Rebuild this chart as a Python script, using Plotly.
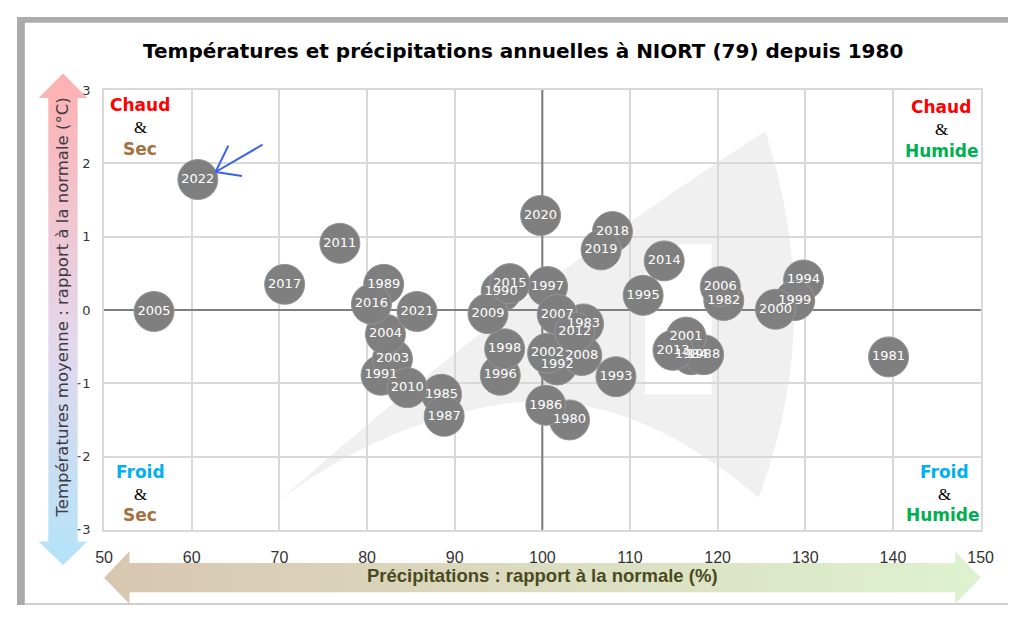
import plotly.graph_objects as go

W, H = 1029, 621           # reference picture size
OFF = 8                    # page body margin
FW, FH = W - 2 * OFF, H - 2 * OFF  # figure size that fits in the window

# ---------------- data ----------------
years = [1980, 1981, 1982, 1983, 1984, 1985, 1986, 1987, 1988, 1989,
         1990, 1991, 1992, 1993, 1994, 1995, 1996, 1997, 1998, 1999,
         2000, 2001, 2002, 2003, 2004, 2005, 2006, 2007, 2008, 2009,
         2010, 2011, 2012, 2013, 2014, 2015, 2016, 2017, 2018, 2019,
         2020, 2021, 2022]
precip = [103.1, 139.5, 120.7, 104.7, 117.0, 88.5, 100.4, 88.8, 118.4, 81.9,
          95.3, 81.6, 101.7, 108.4, 129.8, 111.5, 95.2, 100.6, 95.7, 128.8,
          126.6, 116.4, 100.6, 82.9, 82.1, 55.7, 120.3, 101.7, 104.5, 93.8,
          84.6, 76.9, 103.7, 114.9, 113.9, 96.3, 80.5, 70.6, 108.0, 106.7,
          99.8, 85.7, 60.7]
temp = [-1.50, -0.64, 0.13, -0.19, -0.61, -1.15, -1.30, -1.45, -0.61, 0.35,
        0.25, -0.89, -0.75, -0.91, 0.41, 0.20, -0.89, 0.32, -0.53, 0.13,
        0.01, -0.37, -0.59, -0.67, -0.33, -0.02, 0.32, -0.06, -0.62, -0.05,
        -1.06, 0.91, -0.30, -0.55, 0.67, 0.36, 0.08, 0.35, 1.07, 0.82,
        1.29, -0.02, 1.78]

x_ticks = [50, 60, 70, 80, 90, 100, 110, 120, 130, 140, 150]
y_ticks = [-3, -2, -1, 0, 1, 2, 3]
x_ref_line = [100, 100]
x_ref_span = [-3, 3]

title = "Températures et précipitations annuelles à NIORT (79) depuis 1980"
x_title = "Précipitations : rapport à la normale (%)"
y_title = "Températures moyenne : rapport à la normale (°C)"


def PX(px):
    return (px - OFF) / FW


def PY(py):
    return 1 - (py - OFF) / FH


def cpath(cmds):
    out = []
    for c in cmds:
        letter, pts = c[0], c[1:]
        out.append(letter + " " + " ".join(f"{PX(x):.5f},{PY(y):.5f}" for x, y in pts))
    return " ".join(out) + " Z"


fig = go.Figure()

# vertical reference line at 100 % (under the bubbles)
fig.add_trace(go.Scatter(
    x=x_ref_line, y=x_ref_span, mode="lines",
    line=dict(color="#7f7f7f", width=2), hoverinfo="skip", showlegend=False,
))

# bubbles
fig.add_trace(go.Scatter(
    x=precip, y=temp, text=[str(y) for y in years],
    mode="markers+text",
    marker=dict(size=40, color="#7f7f7f", line=dict(color="#959595", width=1)),
    textposition="middle center",
    textfont=dict(family="DejaVu Sans", size=13, color="white"),
    hoverinfo="text", showlegend=False, cliponaxis=False,
))

# gradient arrows in an overlay subplot covering the whole figure
la = [(55, 68), (80, 93), (70, 93), (70, 548), (80, 548), (55, 572), (30, 548),
      (40, 548), (40, 93), (30, 93), (55, 68)]
fig.add_trace(go.Scatter(
    x=[p[0] for p in la], y=[H - p[1] for p in la], xaxis="x2", yaxis="y2",
    mode="lines", fill="toself", line=dict(width=0),
    fillgradient=dict(type="vertical",
                      colorscale=[[0, "#b3e3f8"], [0.45, "#e3d8ec"], [1, "#ffb0b0"]]),
    hoverinfo="skip", showlegend=False,
))
ba = [(97, 585), (123, 558), (123, 570), (967, 570), (967, 558), (993, 585),
      (967, 612), (967, 600), (123, 600), (123, 612), (97, 585)]
fig.add_trace(go.Scatter(
    x=[p[0] for p in ba], y=[H - p[1] for p in ba], xaxis="x2", yaxis="y2",
    mode="lines", fill="toself", line=dict(width=0),
    fillgradient=dict(type="horizontal",
                      colorscale=[[0, "#d8c6b0"], [1, "#def2cf"]]),
    hoverinfo="skip", showlegend=False,
))

shapes = []
# frame
shapes.append(dict(type="rect", xref="paper", yref="paper", x0=PX(8), x1=PX(16),
                   y0=PY(613), y1=PY(10), fillcolor="#a9a9a9", line=dict(width=0), layer="below"))
shapes.append(dict(type="rect", xref="paper", yref="paper", x0=PX(8), x1=PX(1021),
                   y0=PY(16), y1=PY(10), fillcolor="#acacac", line=dict(width=0), layer="below"))
shapes.append(dict(type="rect", xref="paper", yref="paper", x0=PX(16), x1=PX(1021),
                   y0=PY(613), y1=PY(611), fillcolor="#cfcfcf", line=dict(width=0), layer="below"))

# watermark
shapes.append(dict(type="path", xref="paper", yref="paper", layer="below",
                   fillcolor="#f0f0f0", line=dict(width=0),
                   path=cpath([("M", (277, 505)), ("Q", (520, 290), (773, 127)),
                               ("Q", (835, 320), (766, 503)), ("Q", (640, 395), (520, 405)),
                               ("Q", (390, 420), (277, 505))])))
shapes.append(dict(type="path", xref="paper", yref="paper", layer="below",
                   fillcolor="white", line=dict(width=0),
                   path=cpath([("M", (650, 280)), ("Q", (650, 243), (690, 243)),
                               ("L", (718, 243)), ("L", (718, 397)), ("L", (650, 397))])))

# blue pointer arrow
for (a, b) in [((259, 141), (211, 169)), ((211, 169), (224, 142)), ((211, 169), (238, 173))]:
    shapes.append(dict(type="line", xref="paper", yref="paper",
                       x0=PX(a[0]), y0=PY(a[1]), x1=PX(b[0]), y1=PY(b[1]),
                       line=dict(color="#3a62ef", width=2)))

ann = []


def txt(s, px, py, size, color, family="DejaVu Sans", bold=False, angle=0):
    ann.append(dict(text=f"<b>{s}</b>" if bold else s, x=PX(px), y=PY(py),
                    xref="paper", yref="paper", showarrow=False,
                    xanchor="center", yanchor="middle", textangle=angle,
                    font=dict(family=family, size=size, color=color)))


txt(title, 525, 45, 20, "#000000", bold=True)
txt(y_title, 55, 308, 16.5, "#403a44", angle=-90)
txt(x_title, 545, 583, 18.5, "#4a4a22", family="Liberation Sans", bold=True)

RED, BROWN, GREEN, BLUE = "#ff0000", "#a5713f", "#00b050", "#00b0f0"
txt("Chaud", 134, 100, 17, RED, bold=True)
txt("&", 134, 123, 17, "#000000", family="Liberation Serif")
txt("Sec", 134, 145, 17, BROWN, bold=True)
txt("Chaud", 953, 102, 17, RED, bold=True)
txt("&", 953, 125, 17, "#000000", family="Liberation Serif")
txt("Humide", 954, 147, 17, GREEN, bold=True)
txt("Froid", 134, 477, 17, BLUE, bold=True)
txt("&", 134, 500, 17, "#000000", family="Liberation Serif")
txt("Sec", 134, 521, 17, BROWN, bold=True)
txt("Froid", 956, 477, 17, BLUE, bold=True)
txt("&", 956, 500, 17, "#000000", family="Liberation Serif")
txt("Humide", 955, 521, 17, GREEN, bold=True)

fig.update_layout(
    width=FW, height=FH,
    margin=dict(l=0, r=0, t=0, b=0),
    paper_bgcolor="white", plot_bgcolor="rgba(0,0,0,0)",
    xaxis=dict(range=[50, 150], tickvals=x_ticks, domain=[PX(97), PX(993)],
               showgrid=True, gridcolor="#d9d9d9", gridwidth=2, zeroline=False,
               showline=True, linecolor="#d9d9d9", linewidth=2, mirror=True,
               ticks="", ticklabelstandoff=12, anchor="y",
               tickfont=dict(family="Liberation Sans", size=16, color="#333333"),
               fixedrange=True),
    yaxis=dict(range=[-3, 3], tickvals=y_ticks, domain=[PY(536), PY(85)],
               showgrid=True, gridcolor="#d9d9d9", gridwidth=2,
               zeroline=True, zerolinecolor="#7f7f7f", zerolinewidth=2,
               showline=True, linecolor="#d9d9d9", linewidth=2, mirror=True,
               ticks="", ticklabelstandoff=9, anchor="x",
               tickfont=dict(family="DejaVu Sans", size=13, color="#333333"),
               fixedrange=True),
    xaxis2=dict(domain=[0, 1], range=[OFF, OFF + FW], visible=False, anchor="y2", fixedrange=True),
    yaxis2=dict(domain=[0, 1], range=[H - OFF - FH, H - OFF], visible=False, anchor="x2",
                fixedrange=True),
    shapes=shapes, annotations=ann,
)

fig.write_html("out.html")
